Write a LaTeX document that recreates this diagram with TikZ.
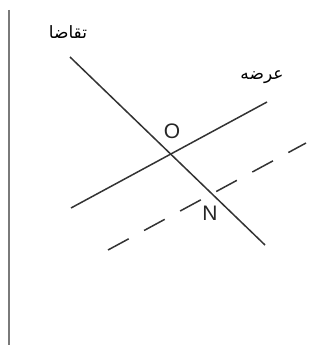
\documentclass[tikz,border=0pt]{standalone}
\usepackage{fontspec}
\setmainfont{Liberation Sans}
\newfontfamily\arabicfont[Script=Arabic]{DejaVu Sans}
\TeXXeTstate=1
\usetikzlibrary{positioning}
\definecolor{lineDark}{HTML}{333333}
\definecolor{axisGray}{HTML}{7A7A7A}

\begin{document}
\begin{tikzpicture}[
  x=1pt, y=-1pt,
  curve/.style={draw=lineDark, line width=1.5pt},
  shifted/.style={curve, dash pattern=on 23.5pt off 17.5pt},
  axis/.style={draw=axisGray, line width=2.2pt},
  point/.style={font=\fontsize{21}{24}\selectfont, text=black!85, inner sep=1pt},
  arlabel/.style={font=\arabicfont\fontsize{17}{20}\selectfont, text=black, inner sep=1pt},
]
\useasboundingbox (0,0) rectangle (324,345);

% end points of the two curves and of the shifted supply curve
\coordinate (dTop) at (70,57);
\coordinate (dBot) at (265,245);
\coordinate (sLeft) at (71,208);
\coordinate (sRight) at (267,102);
\coordinate (nLeft) at (108,250);
\coordinate (nRight) at (306,143);
\coordinate (axTop) at (9,10);
\coordinate (axBot) at (9,345);

\draw[axis] (axTop) -- (axBot);
\draw[curve] (dTop) -- (dBot);
\draw[curve] (sLeft) -- (sRight);
\draw[shifted] (nLeft) -- (nRight);

\node[arlabel] (demand) at (68,32) {\beginR تقاضا\endR};
\node[arlabel] (supply) at (262,77) {\beginR عرضه\endR};
\node[point] (O) at (172,131) {O};
\node[point] (N) at (210,213) {N};

\end{tikzpicture}
\end{document}
